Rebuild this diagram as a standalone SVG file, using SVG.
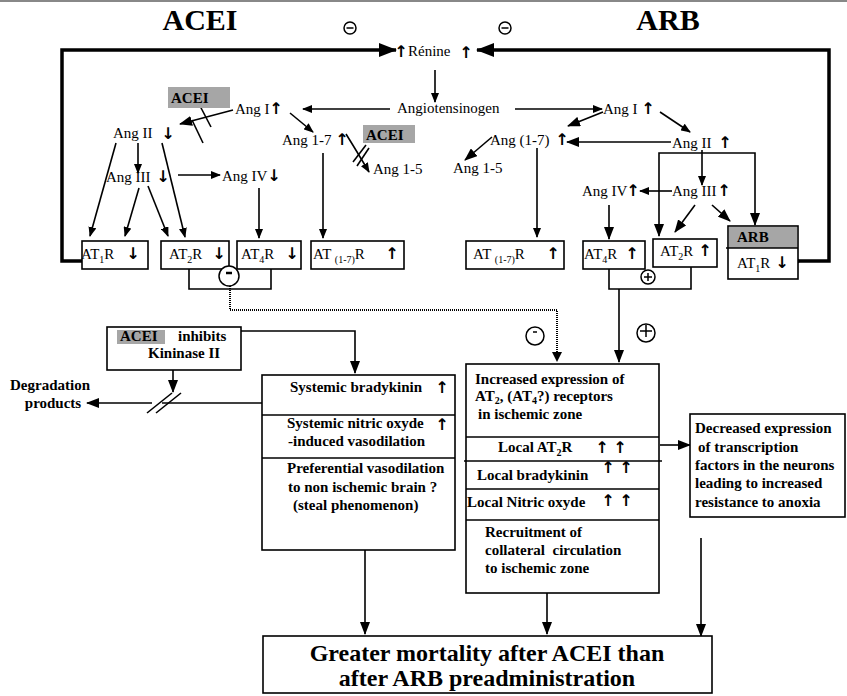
<svg xmlns="http://www.w3.org/2000/svg" width="847" height="696" viewBox="0 0 847 696">
<style>
.t{font-family:"Liberation Serif","Times New Roman",serif;font-size:15px;fill:#000}
.b{font-weight:bold}
.big{font-size:24px}
.ar{font-family:"DejaVu Sans",sans-serif;font-weight:bold;font-size:16px;fill:#000;text-anchor:middle}
.ttl{font-family:"Liberation Serif",serif;font-weight:bold;font-size:30px}
.ln{stroke:#000;stroke-width:1.6;fill:none}
.th{stroke:#000;stroke-width:3.5;fill:none}
.dot{stroke:#000;stroke-width:2;fill:none;stroke-dasharray:1 1}
.box{fill:#fff;stroke:#000;stroke-width:1.6}
.grey{fill:#a6a6a6}
.sym{fill:#fff;stroke:#000;stroke-width:1.5}
.sub{font-size:10px}
</style>
<defs>
<marker id="a" viewBox="0 0 10 8" refX="9" refY="4" markerWidth="10" markerHeight="8" orient="auto" markerUnits="userSpaceOnUse"><path d="M0,0L10,4L0,8z"/></marker>
<marker id="am" viewBox="0 0 13 10" refX="12" refY="5" markerWidth="13" markerHeight="10" orient="auto" markerUnits="userSpaceOnUse"><path d="M0,0L13,5L0,10z"/></marker>
<marker id="ab" viewBox="0 0 18 14" refX="17" refY="7" markerWidth="18" markerHeight="14" orient="auto" markerUnits="userSpaceOnUse"><path d="M0,0L18,7L0,14z"/></marker>
</defs>
<rect width="847" height="696" fill="#fff"/>
<line x1="0" y1="1" x2="847" y2="1" stroke="#888" stroke-width="2"/>

<g id="titles">
<text class="ttl" x="200" y="30" text-anchor="middle">ACEI</text>
<text class="ttl" x="668" y="30" text-anchor="middle">ARB</text>
</g>
<g id="minus-top-left"><circle class="sym" cx="350" cy="28" r="6"/><line x1="346.5" y1="28" x2="353.5" y2="28" stroke="#000" stroke-width="1.5"/></g>
<g id="minus-top-right"><circle class="sym" cx="505" cy="28" r="6"/><line x1="501.5" y1="28" x2="508.5" y2="28" stroke="#000" stroke-width="1.5"/></g>

<g id="connectors">
<path class="th" d="M82,261H62V50H396" marker-end="url(#ab)"/>
<path class="th" d="M797,261H829V50H477" marker-end="url(#ab)"/>
<circle cx="797" cy="261" r="2.5"/>
<path class="ln" d="M435,70V102" marker-end="url(#a)"/>
<path class="ln" d="M390,109H303" marker-end="url(#a)"/>
<path class="ln" d="M515,109H602" marker-end="url(#a)"/>
<path class="ln" d="M233,110L180,124" stroke-width="2" marker-end="url(#am)"/>
<line class="ln" x1="199" y1="104" x2="211" y2="127"/>
<line class="ln" x1="192" y1="120" x2="203" y2="143"/>
<path class="ln" d="M290,113L313,132" stroke-width="2" marker-end="url(#a)"/>
<path class="ln" d="M346,134Q356,150 369,172" stroke-width="2" marker-end="url(#a)"/>
<line class="ln" x1="353" y1="162" x2="366" y2="145"/>
<line class="ln" x1="357" y1="166" x2="369" y2="148"/>
<path class="ln" d="M116,143L90,236" marker-end="url(#a)"/>
<path class="ln" d="M138,143V173" stroke-width="2" marker-end="url(#a)"/>
<path class="ln" d="M162,143L185,237" marker-end="url(#a)"/>
<path class="ln" d="M139,188L125,236" marker-end="url(#a)"/>
<path class="ln" d="M148,186L168,236" stroke-width="2" marker-end="url(#a)"/>
<path class="ln" d="M178,175H220" stroke-width="2" marker-end="url(#a)"/>
<path class="ln" d="M259,188V238" marker-end="url(#a)"/>
<path class="ln" d="M323,153V238" marker-end="url(#a)"/>
<path class="ln" d="M189,269V289H271V269"/>
<path class="dot" d="M230,286V310H557V354"/>
<path d="M552,352L557,362L562,352z"/>
<path class="ln" d="M603,112L568,126" stroke-width="2" marker-end="url(#am)"/>
<path class="ln" d="M660,112L690,132" stroke-width="2" marker-end="url(#a)"/>
<path class="ln" d="M671,142H567" stroke-width="2.2" marker-end="url(#am)"/>
<path class="ln" d="M492,137L465,160" stroke-width="2" marker-end="url(#am)"/>
<path class="ln" d="M537,148V237" stroke-width="2" marker-end="url(#a)"/>
<path class="ln" d="M702,153H659V236" stroke-width="2" marker-end="url(#am)"/>
<path class="ln" d="M702,153H755V225" stroke-width="2" marker-end="url(#am)"/>
<path class="ln" d="M702,150V185" marker-end="url(#a)"/>
<path class="ln" d="M672,191H640" stroke-width="2" marker-end="url(#a)"/>
<path class="ln" d="M609,205V239" stroke-width="2" marker-end="url(#am)"/>
<path class="ln" d="M695,205L675,232" stroke-width="2" marker-end="url(#am)"/>
<path class="ln" d="M712,205L730,221" stroke-width="2.2" marker-end="url(#am)"/>
<path class="ln" d="M609,269V289H691V267"/>
<path class="ln" d="M619,289V362" stroke-width="2" marker-end="url(#am)"/>
<path class="ln" d="M241,331H355V373" marker-end="url(#am)"/>
<path class="ln" d="M173,370V392" stroke-width="2" marker-end="url(#am)"/>
<path class="ln" d="M262,403H162"/>
<path class="ln" d="M152,403H87" stroke-width="3" marker-end="url(#am)"/>
<line class="ln" x1="147" y1="413" x2="172" y2="393"/>
<line class="ln" x1="156" y1="413" x2="181" y2="393"/>
<path class="ln" d="M660,445H690" stroke-width="2" marker-end="url(#am)"/>
<path class="ln" d="M365,550V634" stroke-width="2" marker-end="url(#am)"/>
<path class="ln" d="M547,593V634" stroke-width="2" marker-end="url(#am)"/>
<path class="ln" d="M701,538V636" stroke-width="2" marker-end="url(#am)"/>
</g>

<g id="renine"><text class="ar" x="401" y="57">↑</text><text class="t" x="408" y="56">Rénine</text><text class="ar" x="466" y="58">↑</text></g>
<g id="angiotensinogen"><text class="t" x="397" y="113">Angiotensinogen</text></g>

<g id="acei-ang1"><text class="t" x="235" y="114">Ang I</text><text class="ar" x="276" y="114">↑</text></g>
<g id="acei-label1"><rect class="grey" x="168" y="87" width="62" height="21"/><text class="t b" x="171" y="103">ACEI</text></g>
<g id="acei-ang2"><text class="t" x="113" y="138">Ang II</text><text class="ar" x="168" y="139">↓</text></g>
<g id="acei-ang17"><text class="t" x="282" y="145">Ang 1-7</text><text class="ar" x="342" y="145">↑</text></g>
<g id="acei-label2"><rect class="grey" x="363" y="125" width="52" height="18"/><text class="t b" x="366" y="140">ACEI</text></g>
<g id="acei-ang15"><text class="t" x="373" y="174">Ang 1-5</text></g>
<g id="acei-ang3"><text class="t" x="106" y="182">Ang III</text><text class="ar" x="163" y="182">↓</text></g>
<g id="acei-ang4"><text class="t" x="222" y="181">Ang IV</text><text class="ar" x="274" y="181">↓</text></g>

<g id="acei-at1r"><rect class="box" x="82" y="241" width="66" height="28"/><text class="t" x="81" y="259">AT<tspan class="sub" baseline-shift="-4">1</tspan>R</text><text class="ar" x="133" y="259">↓</text></g>
<g id="acei-at2r"><rect class="box" x="161" y="241" width="68" height="28"/><text class="t" x="169" y="259">AT<tspan class="sub" baseline-shift="-4">2</tspan>R</text><text class="ar" x="219" y="259">↓</text></g>
<g id="acei-at4r"><rect class="box" x="237" y="241" width="64" height="28"/><text class="t" x="241" y="259">AT<tspan class="sub" baseline-shift="-4">4</tspan>R</text><text class="ar" x="292" y="259">↓</text></g>
<g id="acei-at17r"><rect class="box" x="311" y="241" width="93" height="28"/><text class="t" x="313" y="259">AT <tspan class="sub" baseline-shift="-4">(1-7)</tspan>R</text><text class="ar" x="392" y="259">↑</text></g>
<g id="acei-minus"><circle class="sym" cx="229" cy="276" r="10"/><line x1="226" y1="273" x2="232" y2="273" stroke="#000" stroke-width="2.5"/></g>

<g id="arb-ang1"><text class="t" x="603" y="114">Ang I</text><text class="ar" x="648" y="114">↑</text></g>
<g id="arb-ang17"><text class="t" x="490" y="145">Ang (1-7)</text><text class="ar" x="562" y="145">↑</text></g>
<g id="arb-ang15"><text class="t" x="453" y="173">Ang 1-5</text></g>
<g id="arb-ang2"><text class="t" x="672" y="148">Ang II</text><text class="ar" x="725" y="148">↑</text></g>
<g id="arb-ang3"><text class="t" x="672" y="196">Ang III</text><text class="ar" x="724" y="196">↑</text></g>
<g id="arb-ang4"><text class="t" x="582" y="196">Ang IV</text><text class="ar" x="633" y="196">↑</text></g>
<g id="arb-at17r"><rect class="box" x="466" y="241" width="98" height="28"/><text class="t" x="473" y="259">AT <tspan class="sub" baseline-shift="-4">(1-7)</tspan>R</text><text class="ar" x="553" y="259">↑</text></g>
<g id="arb-at4r"><rect class="box" x="583" y="241" width="62" height="28"/><text class="t" x="584" y="259">AT<tspan class="sub" baseline-shift="-4">4</tspan>R</text><text class="ar" x="632" y="259">↑</text></g>
<g id="arb-at2r"><rect class="box" x="653" y="239" width="64" height="28"/><text class="t" x="660" y="256">AT<tspan class="sub" baseline-shift="-4">2</tspan>R</text><text class="ar" x="705" y="256">↑</text></g>
<g id="arb-at1r"><rect class="box" x="728" y="226" width="70" height="53"/><rect class="grey" x="729" y="227" width="68" height="21"/><line x1="726" y1="248" x2="798" y2="248" stroke="#000" stroke-width="1.6"/><text class="t b" x="737" y="242">ARB</text><text class="t" x="737" y="268">AT<tspan class="sub" baseline-shift="-4">1</tspan>R</text><text class="ar" x="782" y="268">↓</text></g>
<g id="arb-plus"><circle class="sym" cx="648" cy="277" r="7"/><path d="M644,277H652M648,273V281" stroke="#000" stroke-width="1.5"/></g>

<g id="minus-mid"><circle class="sym" cx="535" cy="336" r="9"/><line x1="533" y1="332" x2="537" y2="332" stroke="#000" stroke-width="1.5"/></g>
<g id="plus-mid"><circle class="sym" cx="646" cy="333" r="9"/><path d="M640,331H652M646,325V337" stroke="#000" stroke-width="1.5"/></g>

<g id="kininase"><rect class="box" x="107" y="327" width="134" height="43"/><rect class="grey" x="117" y="330" width="48" height="14"/><text class="t b" x="120" y="341">ACEI</text><text class="t b" x="178" y="341">inhibits</text><text class="t b" x="148" y="358">Kininase II</text></g>
<g id="degradation"><text class="t b" x="50" y="390" text-anchor="middle">Degradation</text><text class="t b" x="53" y="408" text-anchor="middle">products</text></g>

<g id="systemic"><rect class="box" x="262" y="375" width="193" height="175"/><line class="ln" x1="262" y1="415" x2="455" y2="415"/><line class="ln" x1="262" y1="458" x2="455" y2="458"/>
<text class="t b" x="290" y="392">Systemic bradykinin</text><text class="ar" x="442" y="393">↑</text>
<text class="t b" x="287" y="428">Systemic nitric oxyde</text><text class="ar" x="442" y="430">↑</text>
<text class="t b" x="288" y="446">-induced vasodilation</text>
<text class="t b" x="287" y="473">Preferential vasodilation</text>
<text class="t b" x="288" y="492">to non ischemic brain ?</text>
<text class="t b" x="293" y="510">(steal phenomenon)</text></g>

<g id="local"><rect class="box" x="466" y="364" width="193" height="229"/><line class="ln" x1="466" y1="437" x2="659" y2="437"/><line class="ln" x1="464" y1="461" x2="662" y2="461"/><line class="ln" x1="466" y1="489" x2="659" y2="489"/><line class="ln" x1="466" y1="520" x2="659" y2="520"/>
<text class="t b" x="475" y="384">Increased expression of</text>
<text class="t b" x="475" y="401">AT<tspan class="sub" baseline-shift="-3">2</tspan>, (AT<tspan class="sub" baseline-shift="-3">4</tspan>?) receptors</text>
<text class="t b" x="478" y="419">in ischemic zone</text>
<text class="t b" x="498" y="452">Local AT<tspan class="sub" baseline-shift="-4">2</tspan>R</text><text class="ar" x="602" y="453">↑</text><text class="ar" x="620" y="453">↑</text>
<text class="t b" x="477" y="480">Local bradykinin</text><text class="ar" x="608" y="473">↑</text><text class="ar" x="626" y="473">↑</text>
<text class="t b" x="467" y="507">Local Nitric oxyde</text><text class="ar" x="608" y="506">↑</text><text class="ar" x="626" y="506">↑</text>
<text class="t b" x="485" y="537">Recruitment of</text>
<text class="t b" x="485" y="555" xml:space="preserve">collateral  circulation</text>
<text class="t b" x="485" y="573">to ischemic zone</text></g>

<g id="transcription"><rect class="box" x="690" y="414" width="155" height="103"/>
<text class="t b" x="695" y="433">Decreased expression</text>
<text class="t b" x="698" y="452">of transcription</text>
<text class="t b" x="695" y="470">factors in the neurons</text>
<text class="t b" x="695" y="488">leading to increased</text>
<text class="t b" x="695" y="507">resistance to anoxia</text></g>

<g id="mortality"><rect class="box" x="263" y="636" width="449" height="57"/>
<text class="t b big" x="487" y="661" text-anchor="middle">Greater mortality after ACEI than</text>
<text class="t b big" x="487" y="686" text-anchor="middle">after ARB preadministration</text></g>
</svg>
